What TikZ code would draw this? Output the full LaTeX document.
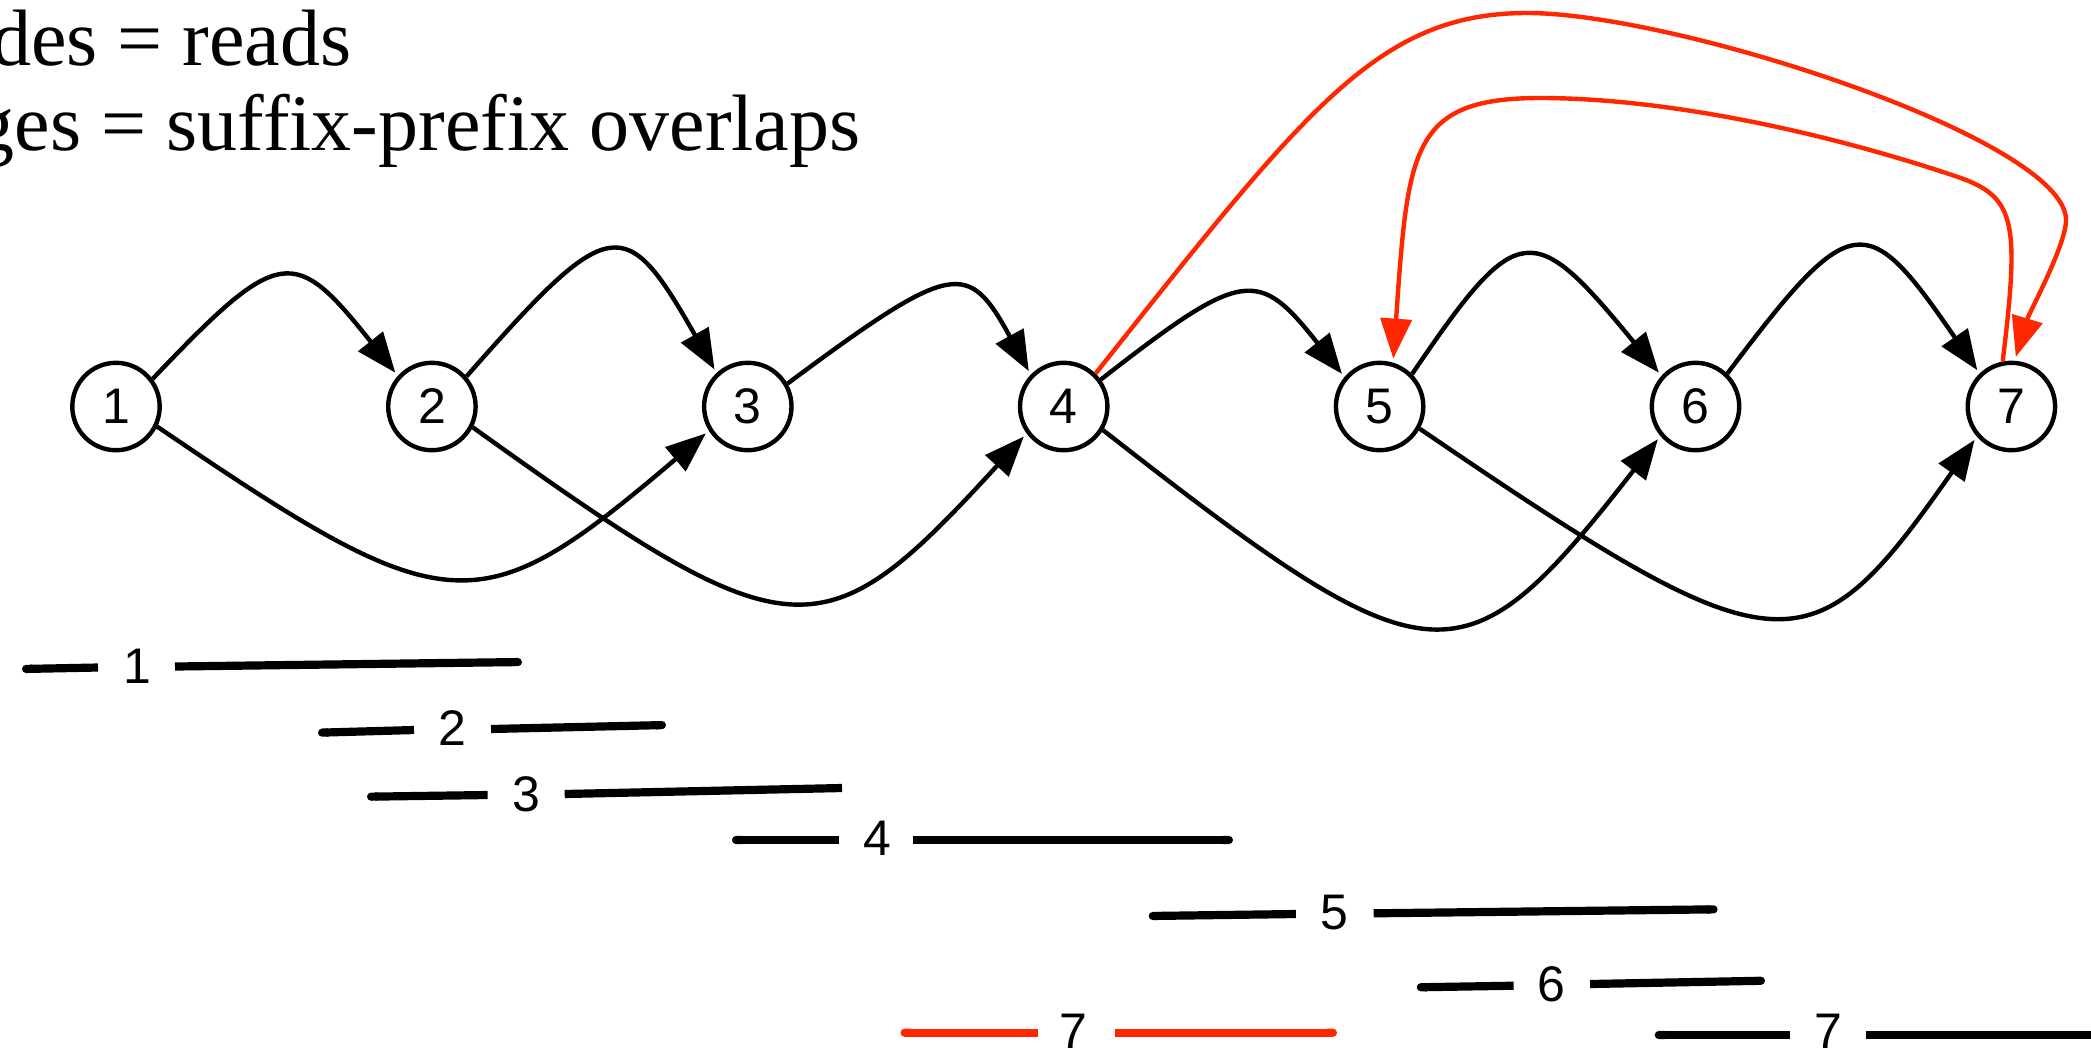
\documentclass[tikz,border=0pt]{standalone}
\usepackage{fontspec}
\setmainfont{Liberation Serif}
\newfontfamily\labelfont{Liberation Sans}
\usetikzlibrary{arrows.meta}
\definecolor{edgered}{RGB}{255,38,0}
\begin{document}
\begin{tikzpicture}[x=0.5pt,y=-0.5pt,
  readnode/.style={circle, draw, line width=2.2pt, minimum size=43.7pt, inner sep=0pt,
    font=\labelfont\fontsize{25}{30}\selectfont},
  readlabel/.style={inner sep=0pt, font=\labelfont\fontsize{25}{30}\selectfont},
  titletext/.style={anchor=base east, inner sep=0pt, font=\fontsize{40}{48}\selectfont},
  edge/.style={line width=2.2pt, -{Triangle[length=20pt,width=15.5pt]}, shorten >=2pt},
  rededge/.style={edge, color=edgered},
  readbar/.style={line width=4.1pt, line cap=butt},
  redbar/.style={readbar, draw=edgered}]
\useasboundingbox (0,0) rectangle (2091,1051);
\clip (0,0) rectangle (2091,1051);

% title
\node[titletext] (t1) at (352,65) {des = reads};
\node[titletext] (t2) at (861,150) {ges = suffix-prefix overlaps};

% nodes
\node[readnode] (n1) at (116,406.5) {1};
\node[readnode] (n2) at (431.9,406.5) {2};
\node[readnode] (n3) at (747.8,406.5) {3};
\node[readnode] (n4) at (1063.7,406.5) {4};
\node[readnode] (n5) at (1379.6,406.5) {5};
\node[readnode] (n6) at (1695.5,406.5) {6};
\node[readnode] (n7) at (2011.4,406.5) {7};

% upper edges
\draw[edge] (n1.37) .. controls (280,245) and (294,245) .. (n2.138);
\draw[edge] (n2.41) .. controls (611,212) and (625,212) .. (n3.133);
\draw[edge] (n3.30) .. controls (954,260) and (968,260) .. (n4.136);
\draw[edge] (n4.36) .. controls (1244,268) and (1258,268) .. (n5.140);
\draw[edge] (n5.45) .. controls (1518,218) and (1532,218) .. (n6.138);
\draw[edge] (n6.46) .. controls (1852,208) and (1866,208) .. (n7.134);

% lower edges
\draw[edge] (n1.334) .. controls (450,626) and (479,626) .. (n3.212);
\draw[edge] (n2.333) .. controls (793,657) and (822,657) .. (n4.216);
\draw[edge] (n4.329) .. controls (1434,689) and (1463,689) .. (n6.220);
\draw[edge] (n5.331) .. controls (1781,675) and (1810,675) .. (n7.221);

% red edges
\draw[rededge] (n4.46) .. controls (1305,110) and (1377,13) .. (1527,13)
  .. controls (1677,13) and (2066,140) .. (2066,220)
  .. controls (2066,245) and (2029,313) .. (n7.86);
\draw[rededge] (n7.101) .. controls (2020,220) and (2015,197) .. (1958,177)
  .. controls (1815.5,129) and (1660,98) .. (1540,98)
  .. controls (1410,98) and (1408,150) .. (n5.73);

% reads
\draw[readbar,{Round Cap}-] (22,669) -- (98,667.5);
\node[readlabel] (l1) at (137,666) {1};
\draw[readbar,-{Round Cap}] (175,666.5) -- (522,662);

\draw[readbar,{Round Cap}-] (318,732.7) -- (414,730);
\node[readlabel] (l2) at (452.5,728) {2};
\draw[readbar,-{Round Cap}] (491,729) -- (666,725);

\draw[readbar,{Round Cap}-] (367,796.7) -- (487.6,795);
\node[readlabel] (l3) at (526,794.7) {3};
\draw[readbar] (564.7,794) -- (842,788);

\draw[readbar,{Round Cap}-] (732,840) -- (839,840);
\node[readlabel] (l4) at (877,838.3) {4};
\draw[readbar,-{Round Cap}] (913,840) -- (1233,840);

\draw[readbar,{Round Cap}-] (1148.7,916) -- (1295.8,914);
\node[readlabel] (l5) at (1334,913) {5};
\draw[readbar,-{Round Cap}] (1373.7,913.3) -- (1717.6,909.3);

\draw[readbar,{Round Cap}-] (1416.7,987.3) -- (1513.6,985.7);
\node[readlabel] (l6) at (1551.8,984) {6};
\draw[readbar,-{Round Cap}] (1590,984) -- (1765,980.7);

\draw[redbar,{Round Cap}-] (900.5,1032.7) -- (1038.2,1032.7);
\node[readlabel] (l7r) at (1073.3,1031) {7};
\draw[redbar,-{Round Cap}] (1114.8,1032.7) -- (1337,1032.7);

\draw[readbar,{Round Cap}-] (1654.7,1035) -- (1789.8,1035);
\node[readlabel] (l7) at (1828,1031) {7};
\draw[readbar] (1866.4,1035) -- (2100,1035);
\end{tikzpicture}
\end{document}
